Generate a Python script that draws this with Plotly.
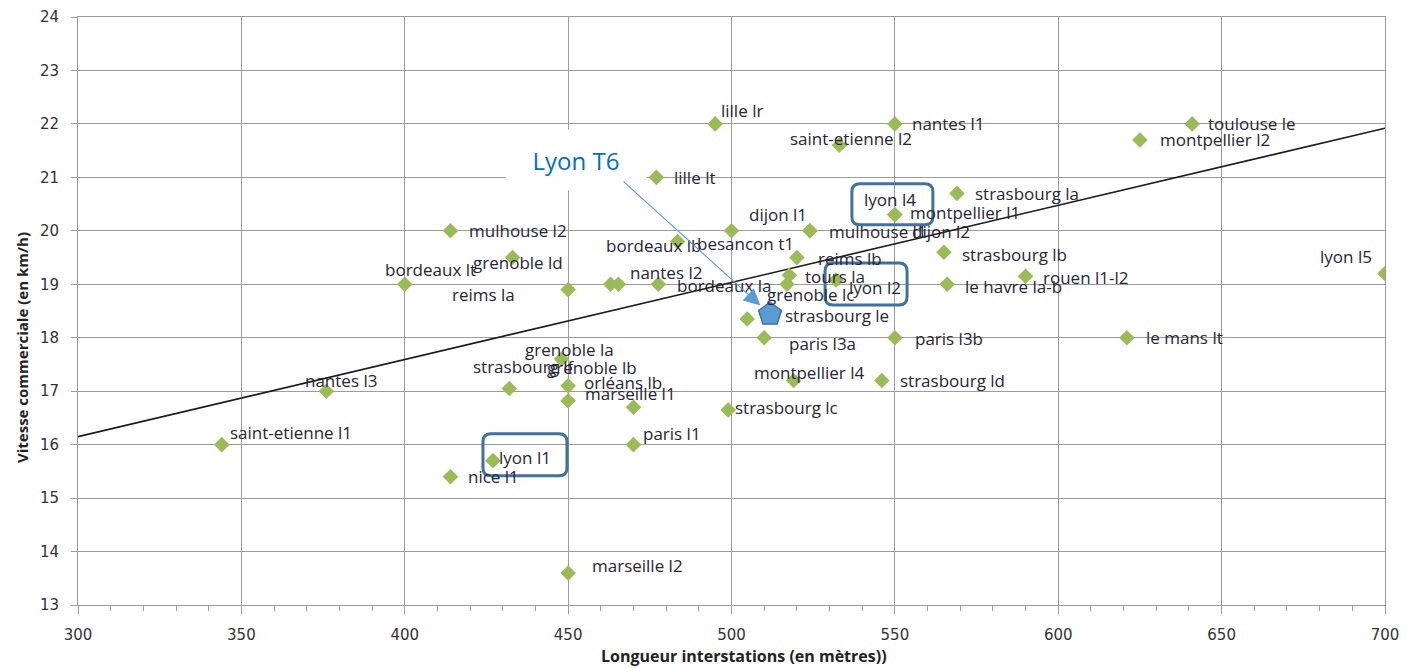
import plotly.graph_objects as go

# ---------------- data ----------------
names = ["lille lr", "nantes l1", "toulouse le", "saint-etienne l2", "montpellier l2",
         "lille lt", "strasbourg la", "lyon l4", "montpellier l1", "dijon l1",
         "mulhouse l1", "dijon l2", "mulhouse l2", "bordeaux lb", "besancon t1",
         "strasbourg lb", "reims lb", "grenoble ld", "lyon l5", "bordeaux lt",
         "nantes l2", "bordeaux la", "tours la", "grenoble lc", "lyon l2",
         "rouen l1-l2", "le havre la-b", "reims la", "strasbourg le", "paris l3a",
         "paris l3b", "le mans lt", "grenoble la", "strasbourg lf", "orléans lb",
         "grenoble lb", "marseille l1", "nantes l3", "montpellier l4", "strasbourg ld",
         "strasbourg lc", "saint-etienne l1", "paris l1", "lyon l1", "nice l1",
         "marseille l2"]
interstation = [495, 550, 641, 533, 625,
                477, 569, 550, 550, 500,
                524, 524, 414, 483.5, 463,
                565, 520, 433, 700, 400,
                465.4, 477.6, 517.7, 517, 532,
                590, 566, 450, 504.8, 510,
                550, 621, 448, 432, 450,
                470, 450, 376, 519, 546,
                499, 344, 470, 427, 414,
                450]
speed = [22.0, 22.0, 22.0, 21.6, 21.7,
         21.0, 20.7, 20.3, 20.3, 20.0,
         20.0, 20.0, 20.0, 19.8, 19.0,
         19.6, 19.5, 19.5, 19.2, 19.0,
         19.0, 19.0, 19.17, 19.0, 19.08,
         19.15, 19.0, 18.9, 18.35, 18.0,
         18.0, 18.0, 17.6, 17.05, 17.1,
         16.7, 16.82, 17.0, 17.2, 17.2,
         16.65, 16.0, 16.0, 15.7, 15.4,
         13.6]

t6_name = "Lyon T6"
t6_interstation = 511.8
t6_speed = 18.44

# linear trend line (speed at both ends of the x range)
trend_x = [300, 700]
trend_y = [16.15, 21.92]

highlighted = ["lyon l4", "lyon l2", "lyon l1"]

x_ticks = [300, 350, 400, 450, 500, 550, 600, 650, 700]
y_ticks = list(range(13, 25))
x_title = "Longueur interstations (en mètres))"
y_title = "Vitesse commerciale (en km/h)"

# ---------------- label placement (pixel offsets, style only) ----------------
label_dx = [4, 15, 14, -51, 18,
            16, 16, -33, 13, 15,
            17, 100, 16, -74, 84,
            16, 19, -42, -67, -22,
            10, 17, 14, -22, 11,
            15, 16, -118, 36, 23,
            18, 17, -39, -38, 14,
            -88, 15, -23, -42, 16,
            5, 6, 8, 4, 15,
            22]
label_dy = [13, 0, 0, 7, 0,
            0, 0, 15, 2, 16,
            -1, -1, 0, -4, 41,
            -2, -1, -5, 17, 15,
            12, -1, -1, -10, -7,
            -1, -2, -5, 4, -6,
            -1, 0, 10, 22, 3,
            40, 7, 11, 8, 0,
            2, 12, 11, 3, 0,
            7]
# highlight box extents in pixels relative to the marker: (left, right, bottom, top)
box_px = {"lyon l4": (-43, 38, -10, 31),
          "lyon l2": (-11, 71, -25, 17),
          "lyon l1": (-10, 74, -15, 27)}

# ---------------- figure ----------------
GREEN = "#9BBB59"
GRID = "#9C9C9C"
LABEL_FONT = dict(family="Open Sans", size=17, color="#262636")

fig = go.Figure()

fig.add_trace(go.Scatter(x=trend_x, y=trend_y, mode="lines",
                         line=dict(color="#1A1A1A", width=1.6),
                         hoverinfo="skip", showlegend=False))

fig.add_trace(go.Scatter(x=interstation, y=speed, mode="markers", text=names,
                         marker=dict(symbol="diamond", size=12, color=GREEN,
                                     line=dict(width=0)),
                         hovertemplate="%{text}<br>%{x} m, %{y} km/h<extra></extra>",
                         showlegend=False))

fig.add_trace(go.Scatter(x=[t6_interstation], y=[t6_speed], mode="markers",
                         marker=dict(symbol="pentagon", size=24, color="#5B9BD5",
                                     line=dict(color="#41719C", width=1.5)),
                         text=[t6_name], hovertemplate="%{text}<extra></extra>",
                         showlegend=False))

annotations = []
for n, xv, yv, dx, dy in zip(names, interstation, speed, label_dx, label_dy):
    annotations.append(dict(x=xv, y=yv, text=n, showarrow=False, xanchor="left",
                            yanchor="middle", xshift=dx, yshift=dy, font=LABEL_FONT))

# Lyon T6 call-out (white text box + arrow)
annotations.append(dict(x=t6_interstation, y=t6_speed, text=t6_name, showarrow=False,
                        xshift=-194, yshift=154, bgcolor="white", width=138, height=58,
                        font=dict(family="Open Sans", size=24, color="#0070C0")))
annotations.append(dict(x=t6_interstation, y=t6_speed, text="", showarrow=True,
                        ax=-148, ay=-134, arrowcolor="#5B9BD5", arrowwidth=1.1,
                        arrowhead=2, arrowsize=3, standoff=13))

# axis titles
annotations.append(dict(xref="paper", yref="paper", x=0.5, y=0, xshift=12, yshift=-51,
                        xanchor="center", yanchor="middle",
                        text=f"<b>{x_title}</b>", showarrow=False,
                        font=dict(family="Open Sans", size=16, color="#222222")))
annotations.append(dict(xref="paper", yref="paper", x=0, y=0.5, xshift=-56, yshift=-37,
                        xanchor="center", yanchor="middle",
                        text=f"<b>{y_title}</b>", showarrow=False, textangle=-90,
                        font=dict(family="Open Sans", size=15, color="#222222")))

shapes = []
for n in highlighted:
    i = names.index(n)
    l, r, b, t = box_px[n]
    rad = 8
    path = (f"M {l + rad},{t} L {r - rad},{t} Q {r},{t} {r},{t - rad} "
            f"L {r},{b + rad} Q {r},{b} {r - rad},{b} L {l + rad},{b} "
            f"Q {l},{b} {l},{b + rad} L {l},{t - rad} Q {l},{t} {l + rad},{t} Z")
    shapes.append(dict(type="path", xref="x", yref="y", xsizemode="pixel",
                       ysizemode="pixel", xanchor=interstation[i], yanchor=speed[i],
                       path=path, line=dict(color="#41719C", width=3),
                       fillcolor="rgba(0,0,0,0)", layer="above"))

# page body adds an 8px margin, so the figure is 8px smaller than the window
fig.update_layout(
    width=1402, height=660,
    margin=dict(l=70, r=25, t=9, b=63),
    paper_bgcolor="white", plot_bgcolor="white",
    annotations=annotations, shapes=shapes,
    font=dict(family="Open Sans", color="#333333"),
)
fig.update_xaxes(range=[300, 700], tickvals=x_ticks, showgrid=True, gridcolor=GRID,
                 gridwidth=1, showline=True, linecolor=GRID, linewidth=1, mirror=True,
                 ticks="outside", ticklen=8, tickcolor=GRID, zeroline=False,
                 automargin=False,
                 minor=dict(dtick=10, ticks="outside", ticklen=5, tickcolor=GRID,
                            showgrid=False),
                 tickfont=dict(family="DejaVu Sans", size=15, color="#333333"),
                 ticklabelstandoff=8)
fig.update_yaxes(range=[13, 24], tickvals=y_ticks, showgrid=True, gridcolor=GRID,
                 gridwidth=1, showline=True, linecolor=GRID, linewidth=1, mirror=True,
                 ticks="outside", ticklen=6, tickcolor=GRID, zeroline=False,
                 automargin=False,
                 tickfont=dict(family="DejaVu Sans", size=15, color="#333333"),
                 ticklabelstandoff=9)

fig.write_html("out.html")
